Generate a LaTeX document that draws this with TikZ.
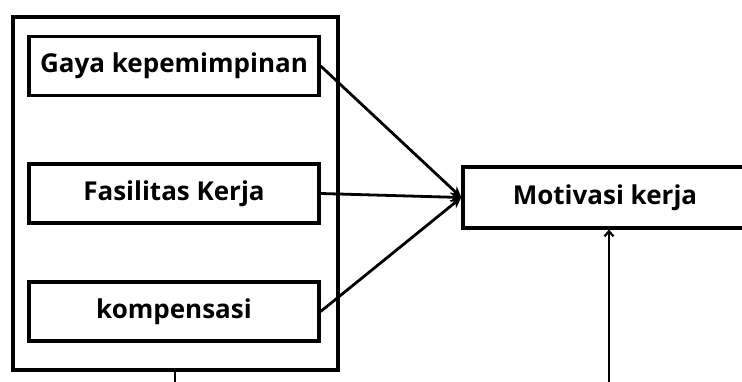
\documentclass[tikz,border=0pt]{standalone}
\usepackage{fontspec}
\setmainfont{Open Sans}
\usetikzlibrary{arrows.meta}
\begin{document}
\begin{tikzpicture}[x=1pt,y=-1pt,
  box/.style={draw,line width=3.3pt,minimum height=59pt,inner sep=0pt,font=\fontsize{26}{30}\selectfont\bfseries},
  conn/.style={line width=2.8pt,-{Stealth[length=11pt,width=10pt]}}]
\useasboundingbox (0,0) rectangle (742,382);
\draw[line width=3.3pt] (13,17) rectangle (338,370);
\node[box,minimum width=290pt] (g) at (174,66) {Gaya kepemimpinan};
\node[box,minimum width=290pt] (f) at (174,193.5) {Fasilitas Kerja};
\node[box,minimum width=290pt] (k) at (174,311.5) {kompensasi};
\node[box,minimum width=284pt,minimum height=61pt] (m) at (605,197.5) {Motivasi kerja};
\coordinate (t) at (m.west);
\draw[conn] (g.east) -- (t);
\draw[conn] (f.east) -- (t);
\draw[conn] (k.east) -- (t);
\coordinate (ob) at (175,370);
\coordinate (oe) at (175,383);
\draw[line width=2.2pt] (ob) -- (oe);
\coordinate (vb) at (609,383);
\draw[line width=2.2pt,-{Straight Barb[length=5pt,width=9pt]}] (vb) -- (m.south -| vb);
\end{tikzpicture}
\end{document}
